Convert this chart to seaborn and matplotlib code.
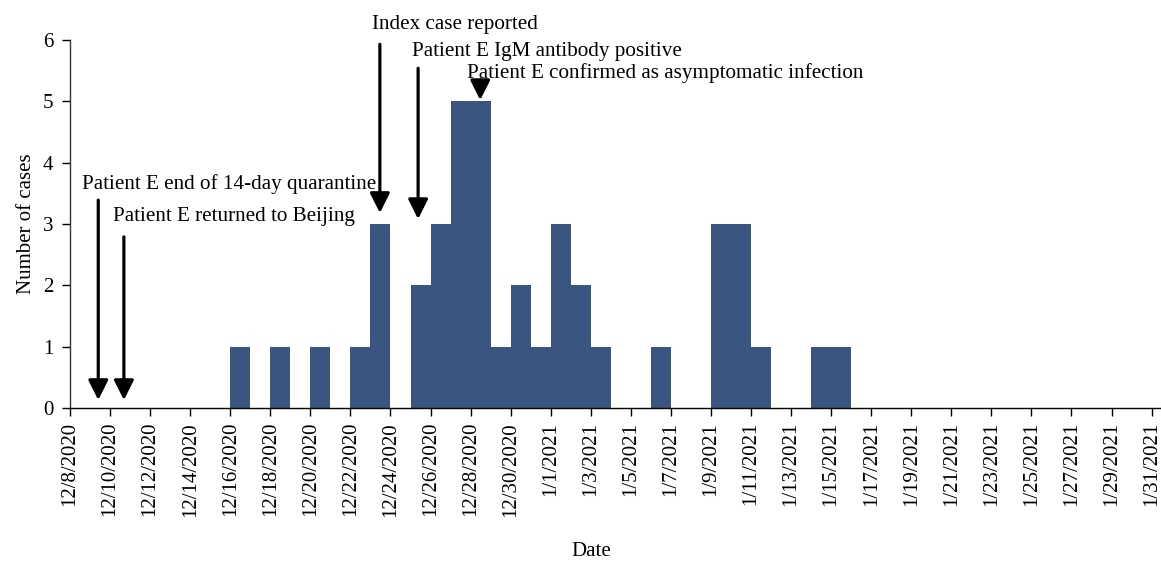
import matplotlib.pyplot as plt
import numpy as np
import pandas as pd
import seaborn as sns

# daily onset counts (days without cases left out)
onset_dates = ['2020-12-16', '2020-12-18', '2020-12-20', '2020-12-22', '2020-12-23',
               '2020-12-25', '2020-12-26', '2020-12-27', '2020-12-28', '2020-12-29',
               '2020-12-30', '2020-12-31', '2021-01-01', '2021-01-02', '2021-01-03',
               '2021-01-06', '2021-01-09', '2021-01-10', '2021-01-11', '2021-01-14',
               '2021-01-15']
cases = [1, 1, 1, 1, 3, 2, 3, 5, 5, 1, 2, 1, 3, 2, 1, 1, 3, 3, 1, 1, 1]

start = pd.Timestamp('2020-12-08')
end = pd.Timestamp('2021-01-31')

event_labels = ['Patient E end of 14-day quarantine', 'Patient E returned to Beijing',
                'Index case reported', 'Patient E IgM antibody positive',
                'Patient E confirmed as asymptomatic infection']
event_days = [1.41, 2.69, 15.47, 17.38, 20.48]   # days after 12/8/2020

sns.set_theme(style='white')
plt.rcParams['font.family'] = ['Liberation Serif', 'DejaVu Serif']
plt.rcParams['text.color'] = 'black'
plt.rcParams['axes.labelcolor'] = 'black'
plt.rcParams['xtick.color'] = 'black'
plt.rcParams['ytick.color'] = 'black'

df = pd.DataFrame({'date': pd.to_datetime(onset_dates), 'cases': cases})
df['day'] = (df['date'] - start).dt.days + 0.5
n_days = (end - start).days

fig = plt.figure(figsize=(11.61, 5.61), dpi=100)
ax = fig.add_axes([0.0603, 0.2727, 0.9397, 0.656])

sns.histplot(data=df, x='day', weights='cases', binwidth=1, binrange=(0, n_days),
             color='#3a557f', alpha=1, linewidth=0, ax=ax)

# arrows: (top y, tip y) in data units, text (x offset, y)
arrow_y = [(3.39, 0.13), (2.79, 0.13), (5.93, 3.18), (5.54, 3.08), (5.35, 5.02)]
text_xy = [(0.6, 3.65), (2.14, 3.13), (15.07, 6.26), (17.06, 5.82), (19.8, 5.46)]
for label, x, (y0, y1), (tx, ty) in zip(event_labels, event_days, arrow_y, text_xy):
    ax.annotate('', xy=(x, y1), xytext=(x, y0),
                arrowprops=dict(arrowstyle='-|>,head_length=1.2,head_width=0.6',
                                mutation_scale=10, lw=2.3, color='black',
                                shrinkA=0, shrinkB=0),
                annotation_clip=False)
    ax.text(tx, ty, label, fontsize=15.2, ha='left', va='center', clip_on=False)

ticks = pd.date_range(start, end, freq='2D')
tick_labels = [f'{d.month}/{d.day}/{d.year}' for d in ticks]
ax.set_xticks([(d - start).days for d in ticks])
ax.set_xticklabels(tick_labels, rotation=90, fontsize=15)
ax.set_xlim(0, 54.47)
ax.set_ylim(0, 6)
ax.set_yticks(range(7))
ax.tick_params(axis='y', labelsize=15, length=6, width=1, direction='out', left=True, pad=6)
ax.tick_params(axis='x', length=6, width=1, direction='out', bottom=True, pad=4)

ax.set_xlabel('Date', fontsize=15)
ax.xaxis.label.set_va('center')
ax.xaxis.set_label_coords(0.4775, -0.389)
ax.set_ylabel('Number of cases', fontsize=15, labelpad=5)

sns.despine(ax=ax)
ax.spines['left'].set_color('#333333')
ax.spines['bottom'].set_color('black')
ax.spines['left'].set_linewidth(1)
ax.spines['bottom'].set_linewidth(1)

fig.savefig('out.png', dpi=100)
